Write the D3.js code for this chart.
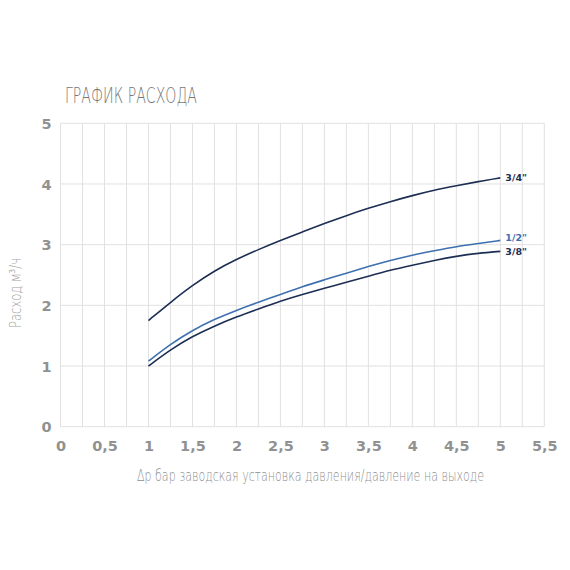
<!DOCTYPE html>
<html><head><meta charset="utf-8">
<script src="https://cdn.jsdelivr.net/npm/d3@7"></script>
<style>
body{margin:0;background:#fff;}
svg{display:block;}
</style></head>
<body>
<script>
const xValues = [1, 1.25, 1.5, 1.75, 2, 2.25, 2.5, 2.75, 3, 3.25, 3.5, 3.75, 4, 4.25, 4.5, 4.75, 5];
const series34 = [1.75, 2.05, 2.33, 2.57, 2.76, 2.92, 3.07, 3.21, 3.35, 3.48, 3.60, 3.71, 3.81, 3.90, 3.97, 4.04, 4.10];
const series12 = [1.08, 1.36, 1.59, 1.77, 1.92, 2.05, 2.18, 2.31, 2.42, 2.53, 2.64, 2.74, 2.83, 2.90, 2.97, 3.02, 3.07];
const series38 = [1.00, 1.27, 1.49, 1.66, 1.81, 1.94, 2.07, 2.18, 2.28, 2.38, 2.48, 2.58, 2.66, 2.74, 2.81, 2.86, 2.89];
const seriesNames = ['3/4"', '1/2"', '3/8"'];
const xTicks = [0, 0.5, 1, 1.5, 2, 2.5, 3, 3.5, 4, 4.5, 5, 5.5];
const xGrid = d3.range(0, 5.5001, 0.25);
const yTicks = [0, 1, 2, 3, 4, 5];
const title = "ГРАФИК РАСХОДА";
const xTitle = "Δр бар заводская установка давления/давление на выходе";
const yTitle = "Расход м³/ч";

const W = 570, H = 570;
const svg = d3.select("body").append("svg").attr("width", W).attr("height", H);

const x = d3.scaleLinear().domain([0, 5.5]).range([60.5, 544.3]);
const y = d3.scaleLinear().domain([0, 5]).range([426.7, 123.3]);

const grid = svg.append("g");
grid.selectAll("line.v").data(xGrid).join("line")
  .attr("x1", d => x(d)).attr("x2", d => x(d))
  .attr("y1", y(0)).attr("y2", y(5))
  .attr("stroke", "#e1e1e1").attr("stroke-width", 1);
grid.selectAll("line.h").data(yTicks).join("line")
  .attr("x1", x(0)).attr("x2", x(5.5))
  .attr("y1", d => y(d)).attr("y2", d => y(d))
  .attr("stroke", "#e1e1e1").attr("stroke-width", 1);

const fmt = d => String(d).replace(".", ",");
const xAxis = svg.append("g").attr("transform", `translate(0,${y(0)})`)
  .call(d3.axisBottom(x).tickValues(xTicks).tickFormat(fmt).tickSize(0).tickPadding(14));
const yAxis = svg.append("g").attr("transform", `translate(${x(0)},0)`)
  .call(d3.axisLeft(y).tickValues(yTicks).tickFormat(fmt).tickSize(0).tickPadding(9));
[xAxis, yAxis].forEach(a => {
  a.select(".domain").remove();
  a.selectAll("text").attr("fill", "#919191").attr("font-family", "DejaVu Sans")
    .attr("font-size", 14.5).attr("font-weight", "bold");
});
yAxis.selectAll("text").attr("dy", "0.36em");

const series = [
  {name: seriesNames[0], values: series34, color: "#1c2e52", dy: 3},
  {name: seriesNames[1], values: series12, color: "#3e70b0", dy: 1},
  {name: seriesNames[2], values: series38, color: "#1c2e52", dy: 4}
];
const line = d3.line().x((d, i) => x(xValues[i])).y(d => y(d)).curve(d3.curveBasis);
svg.selectAll("path.s").data(series).join("path")
  .attr("d", d => line(d.values)).attr("fill", "none")
  .attr("stroke", d => d.color).attr("stroke-width", 1.6);
svg.selectAll("text.lab").data(series).join("text")
  .attr("x", x(5) + 5).attr("y", d => y(d.values[d.values.length - 1]) + d.dy)
  .attr("fill", d => d.color).attr("font-family", "DejaVu Sans").attr("font-weight", "bold")
  .attr("font-size", 9.5).text(d => d.name);

const light = "'DejaVu Sans', sans-serif";
svg.append("text").attr("x", 65).attr("y", 103).attr("fill", "#777777")
  .attr("font-family", light).attr("font-size", 21).attr("font-weight", 200)
  .attr("textLength", 132).attr("lengthAdjust", "spacingAndGlyphs").text(title);
svg.append("text").attr("x", 137).attr("y", 481).attr("fill", "#8f8f8f")
  .attr("font-family", light).attr("font-size", 15).attr("font-weight", 200)
  .attr("textLength", 347).attr("lengthAdjust", "spacingAndGlyphs").text(xTitle);
svg.append("text").attr("transform", "translate(21,328) rotate(-90)")
  .attr("fill", "#a3a3a3").attr("font-family", light).attr("font-size", 16).attr("font-weight", 200)
  .attr("textLength", 70).attr("lengthAdjust", "spacingAndGlyphs").text(yTitle);
</script>
</body></html>
